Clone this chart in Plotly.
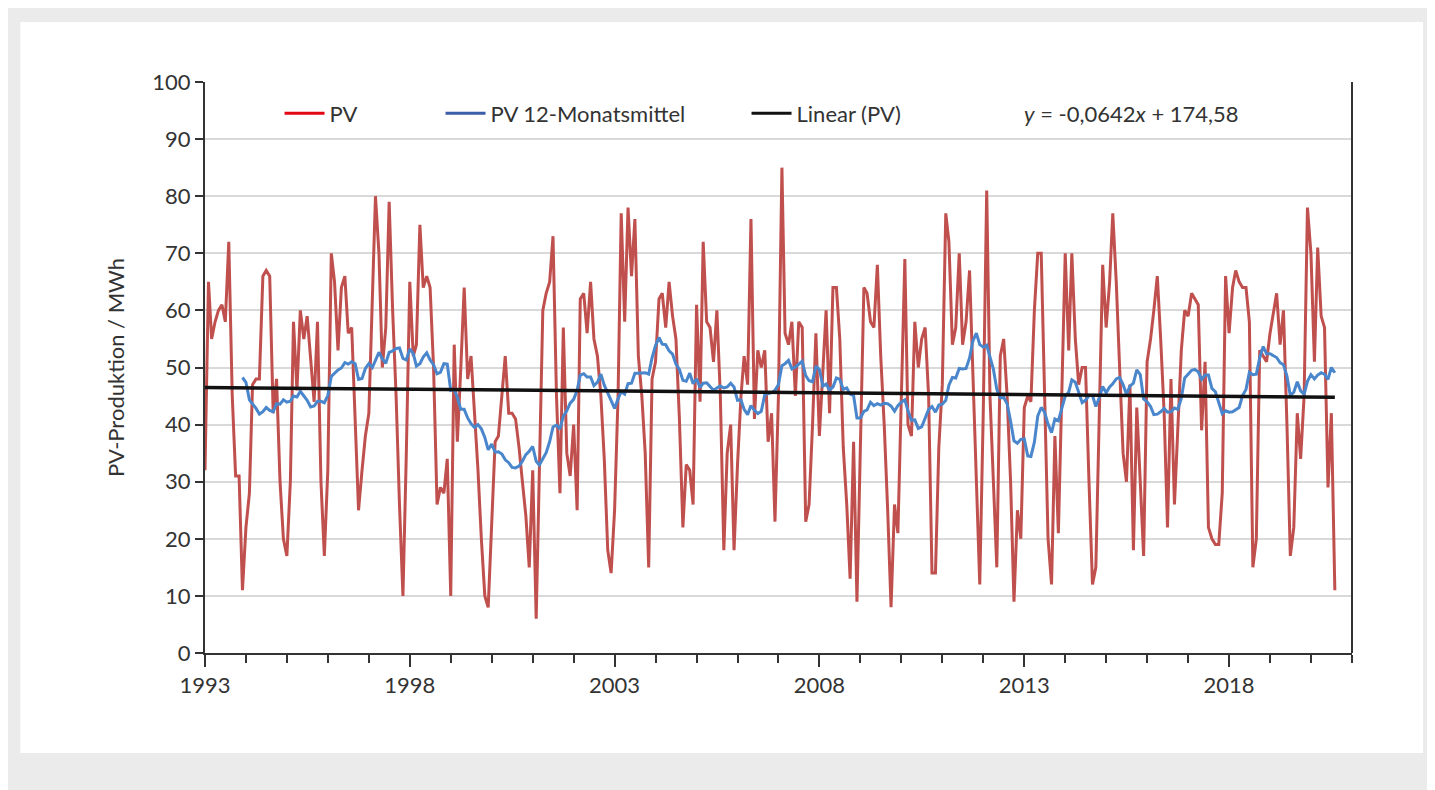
import numpy as np
import pandas as pd
import plotly.graph_objects as go

# Monthly PV production (MWh), Jan 1993 - Dec 2020
pv_1993_1999 = [
    32, 65, 55, 58, 60, 61, 58, 72, 45, 31, 31, 11,
    22, 28, 47, 48, 48, 66, 67, 66, 42, 48, 30, 20,
    17, 30, 58, 46, 60, 55, 59, 52, 44, 58, 30, 17,
    32, 70, 65, 53, 64, 66, 56, 57, 40, 25, 32, 38,
    42, 62, 80, 70, 50, 57, 79, 60, 45, 26, 10, 35,
    65, 52, 54, 75, 64, 66, 64, 50, 26, 29, 28, 34,
    10, 54, 37, 50, 64, 48, 52, 42, 32, 20, 10, 8,
]
pv_2000_2006 = [
    22, 37, 38, 45, 52, 42, 42, 41, 36, 30, 24, 15,
    32, 6, 30, 60, 63, 65, 73, 45, 28, 57, 35, 31,
    40, 25, 62, 63, 56, 65, 55, 52, 45, 34, 18, 14,
    25, 45, 77, 58, 78, 66, 76, 52, 45, 35, 15, 48,
    51, 62, 63, 57, 65, 59, 55, 41, 22, 33, 32, 26,
    61, 44, 72, 58, 57, 51, 60, 45, 18, 35, 40, 18,
    33, 45, 52, 47, 76, 41, 53, 50, 53, 37, 42, 23,
]
pv_2007_2013 = [
    45, 85, 56, 54, 58, 45, 58, 57, 23, 26, 40, 56,
    38, 50, 60, 42, 64, 64, 55, 36, 26, 13, 37, 9,
    38, 64, 63, 58, 57, 68, 52, 40, 25, 8, 26, 21,
    45, 69, 40, 38, 58, 50, 55, 57, 45, 14, 14, 36,
    47, 77, 72, 54, 57, 70, 54, 58, 67, 50, 30, 12,
    42, 81, 45, 30, 15, 52, 55, 45, 30, 9, 25, 20,
    43, 45, 44, 60, 70, 70, 45, 20, 12, 38, 21, 45,
]
pv_2014_2020 = [
    70, 53, 70, 55, 47, 50, 50, 30, 12, 15, 40, 68,
    57, 65, 77, 65, 50, 35, 30, 47, 18, 43, 30, 17,
    51, 55, 60, 66, 55, 42, 22, 48, 26, 40, 53, 60,
    59, 63, 62, 61, 39, 51, 22, 20, 19, 19, 28, 66,
    56, 64, 67, 65, 64, 64, 58, 15, 20, 53, 52, 51,
    56, 60, 63, 54, 60, 40, 17, 22, 42, 34, 45, 78,
    70, 51, 71, 59, 57, 29, 42, 11,
]
pv = pv_1993_1999 + pv_2000_2006 + pv_2007_2013 + pv_2014_2020

trend_ends = [46.5, 44.8]  # linear trend at first and last month
y_ticks = list(range(0, 101, 10))
year_labels = ["1993", "1998", "2003", "2008", "2013", "2018"]

dates = pd.date_range("1993-01-01", periods=len(pv), freq="MS")
df = pd.DataFrame({"Date": dates, "pv": pv})
df["avg12"] = df["pv"].rolling(12).mean()  # 12-month moving average

font = "Lato, Open Sans, sans-serif"
nb = "\u00a0"
fig = go.Figure()

# Data traces
fig.add_trace(go.Scatter(x=df["Date"], y=df["pv"], mode="lines", showlegend=False,
                         line=dict(color="#c0504d", width=3)))
fig.add_trace(go.Scatter(x=df["Date"], y=df["avg12"], mode="lines", showlegend=False,
                         line=dict(color="#4a86cc", width=3)))
fig.add_trace(go.Scatter(x=[df["Date"].iloc[0], df["Date"].iloc[-1]], y=trend_ends,
                         mode="lines", showlegend=False,
                         line=dict(color="#111111", width=3.5)))

# Legend entries
fig.add_trace(go.Scatter(x=[None], y=[None], mode="lines", name="PV" + nb * 14,
                         line=dict(color="#e30613", width=3)))
fig.add_trace(go.Scatter(x=[None], y=[None], mode="lines",
                         name="PV 12-Monatsmittel" + nb * 10,
                         line=dict(color="#3a5ea8", width=3)))
fig.add_trace(go.Scatter(x=[None], y=[None], mode="lines", name="Linear (PV)",
                         line=dict(color="#111111", width=3)))

fig.update_layout(
    width=1435, height=790,
    paper_bgcolor="#ebebeb", plot_bgcolor="white",
    margin=dict(l=197, r=91, t=74, b=145),
    font=dict(family=font, size=22, color="#333333"),
    showlegend=True,
    legend=dict(orientation="h", x=0.065, y=0.945, xanchor="left", yanchor="middle",
                bgcolor="rgba(0,0,0,0)", font=dict(size=22), itemwidth=40,
                tracegroupgap=0),
    xaxis=dict(
        type="date", range=["1993-01-01", "2021-01-01"],
        tickvals=[f"{y}-01-01" for y in year_labels], ticktext=year_labels,
        ticks="outside", ticklen=12, tickwidth=2, tickcolor="#333333",
        minor=dict(dtick="M12", ticks="outside", ticklen=8, tickwidth=2, tickcolor="#333333"),
        showgrid=False, showline=True, linecolor="#333333", linewidth=2,
        mirror=False, zeroline=False, tickfont=dict(size=22),
    ),
    yaxis=dict(
        range=[0, 100], tickvals=y_ticks, ticks="outside", ticklen=8, tickwidth=2,
        tickcolor="#333333", showgrid=True, gridcolor="#d9d9d9", gridwidth=1.5,
        showline=True, linecolor="#333333", linewidth=2, zeroline=False,
        title=dict(text="PV-Produktion / MWh", font=dict(size=22), standoff=22),
        tickfont=dict(size=22),
    ),
    shapes=[
        dict(type="rect", xref="paper", yref="paper", x0=-0.161, x1=1.062,
             y0=-0.175, y1=1.105, fillcolor="white", line=dict(width=0), layer="below"),
        dict(type="line", xref="paper", yref="paper", x0=1, x1=1, y0=0, y1=1,
             line=dict(color="#333333", width=2)),
    ],
    annotations=[
        dict(text="<i>y</i> = -0,0642<i>x</i> + 174,58", xref="paper", yref="paper",
             x=0.712, y=0.945, xanchor="left", yanchor="middle", showarrow=False,
             font=dict(size=22, color="#333333")),
    ],
)

fig.write_html("out.html")
